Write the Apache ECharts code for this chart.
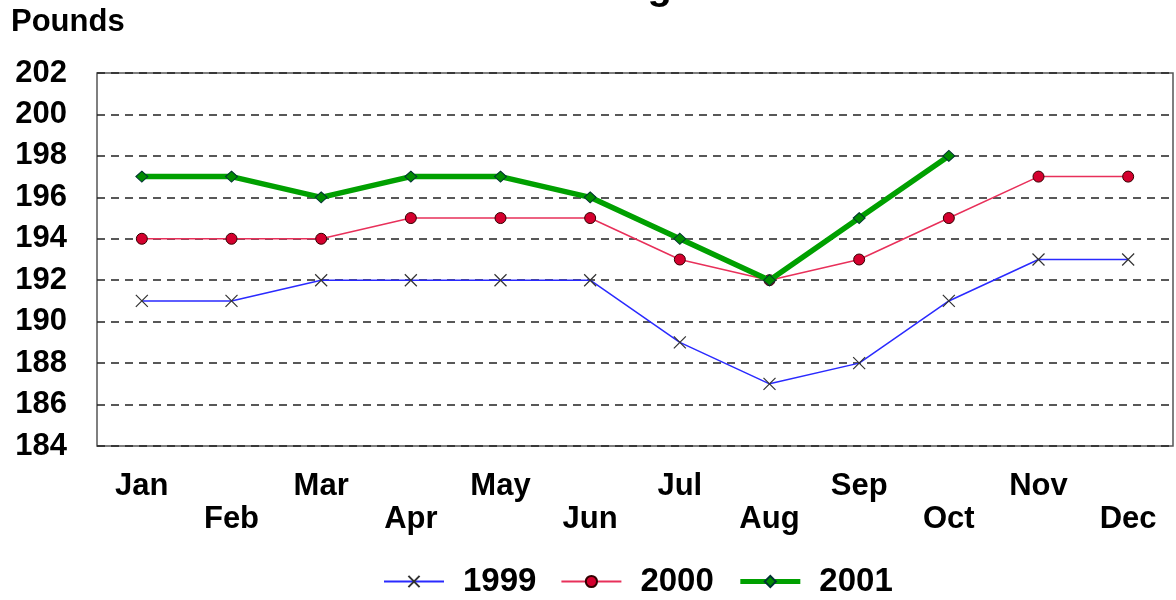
<!DOCTYPE html>
<html>
<head>
<meta charset="utf-8">
<script src="https://cdn.jsdelivr.net/npm/echarts@6/dist/echarts.min.js"></script>
<style>
html,body{margin:0;padding:0;background:#fff;}
#chart{width:1176px;height:600px;}
</style>
</head>
<body>
<div id="chart"></div>
<script>
var titleText = 'Weight';
var yAxisName = 'Pounds';
var months = ['Jan','Feb','Mar','Apr','May','Jun','Jul','Aug','Sep','Oct','Nov','Dec'];
var seriesNames = ['1999','2000','2001'];
var values1999 = [191,191,192,192,192,192,189,187,188,191,193,193];
var values2000 = [194,194,194,195,195,195,193,192,193,195,197,197];
var values2001 = [197,197,196,197,197,196,194,192,195,198,null,null];
var yMin = 184, yMax = 202, yStep = 2;

var font = 'Liberation Sans, Arial, sans-serif';
var chart = echarts.init(document.getElementById('chart'));
chart.setOption({
  animation: false,
  backgroundColor: '#fff',
  graphic: [
    { type: 'text', left: 11, top: 7, style: { text: yAxisName, font: 'bold 31px ' + font, fill: '#000' } },
    { type: 'text', x: 577, y: -32, style: { text: titleText, font: 'bold 40px ' + font, fill: '#000', verticalAlign: 'top' } }
  ],
  grid: { left: 97, right: 3, top: 73, bottom: 154, show: true, borderColor: '#555', borderWidth: 1.5, backgroundColor: 'transparent' },
  legend: {
    top: 560, left: 378, itemWidth: 60, itemHeight: 14, itemGap: 24,
    textStyle: { fontFamily: font, fontWeight: 'bold', fontSize: 33, color: '#000', padding: [0,0,0,14] },
    data: [
      { name: seriesNames[0] },
      { name: seriesNames[1] },
      { name: seriesNames[2], lineStyle: { width: 5 } }
    ]
  },
  xAxis: {
    type: 'category', data: months, boundaryGap: true,
    axisLine: { show: false }, axisTick: { show: false },
    axisLabel: {
      interval: 0, margin: 24, fontFamily: font, fontWeight: 'bold', fontSize: 31, color: '#000', lineHeight: 33,
      formatter: function (v, i) { return i % 2 === 0 ? v : '\n' + v; }
    }
  },
  yAxis: {
    type: 'value', min: yMin, max: yMax, interval: yStep,
    axisLine: { show: false }, axisTick: { show: false },
    axisLabel: { margin: 30, fontFamily: font, fontWeight: 'bold', fontSize: 31, color: '#000' },
    splitLine: { show: true, lineStyle: { color: '#222', width: 1.5, type: [8, 6] } }
  },
  series: [
    {
      name: seriesNames[0], type: 'line', data: values1999,
      symbol: 'path://M0,0L10,10M10,0L0,10', symbolSize: 12,
      lineStyle: { color: '#2a2aff', width: 1.5 },
      itemStyle: { color: 'rgba(0,0,0,0)', borderColor: '#333', borderWidth: 1.2 },
      z: 2
    },
    {
      name: seriesNames[1], type: 'line', data: values2000,
      symbol: 'circle', symbolSize: 11,
      lineStyle: { color: '#e8305a', width: 1.5 },
      itemStyle: { color: '#d4002e', borderColor: '#300', borderWidth: 1 },
      z: 3
    },
    {
      name: seriesNames[2], type: 'line', data: values2001,
      symbol: 'diamond', symbolSize: [12, 11],
      lineStyle: { color: '#00a000', width: 5.5 },
      itemStyle: { color: '#008c00', borderColor: '#033', borderWidth: 1 },
      z: 4
    }
  ]
});
</script>
</body>
</html>
